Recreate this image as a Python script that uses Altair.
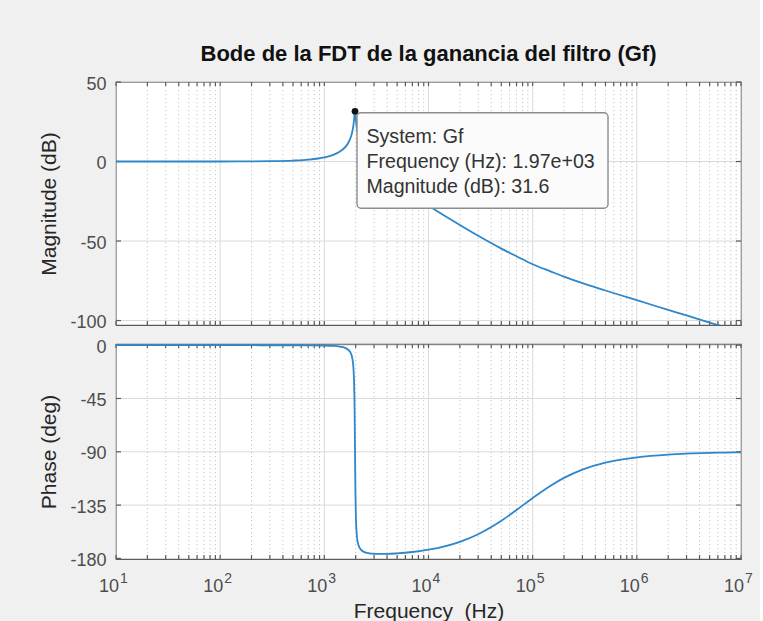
import altair as alt
import pandas as pd

# ---- Bode response of Gf: frequency (Hz), magnitude (dB), phase (deg) ----
FREQ_HZ = [10, 20, 50, 100, 200, 300, 500, 700,
           1000, 1200, 1400, 1500, 1600, 1700, 1800, 1850, 1900, 1930,
           1950, 1960, 1970, 1980, 1990, 2010, 2050, 2100, 2200, 2400,
           2700, 3000, 4000, 5000, 7000, 1e4, 2e4, 3e4, 5e4, 7e4,
           1e5, 1.5e5, 2e5, 3e5, 5e5, 7e5, 1e6, 2e6, 3e6, 5e6,
           7e6, 1e7]
MAG_DB = [0.00, 0.00, 0.01, 0.02, 0.09, 0.20, 0.58, 1.17,
          2.59, 4.03, 6.11, 7.53, 9.34, 11.82, 15.55, 18.37, 22.58, 26.42,
          29.64, 31.03, 31.6, 30.95, 29.49, 26.19, 21.18, 17.13, 12.08, 6.28,
          1.12, -2.40, -9.88, -14.70, -21.28, -27.81, -39.92, -46.71, -54.76, -59.60,
          -64.6, -69.2, -72.4, -76.5, -81.1, -84.1, -87.2, -93.3, -96.8, -101.3,
          -104.2, -107.3]
PHASE_DEG = [0.0, 0.0, 0.0, -0.01, -0.02, -0.05, -0.06, -0.12,
             -0.32, -0.61, -1.17, -1.67, -2.46, -3.88, -7.01, -10.51, -18.64, -31.32,
             -50.84, -67.46, -88.61, -109.65, -126.11, -145.37, -160.27, -166.89, -171.66, -174.51,
             -175.74, -176.14, -176.19, -175.77, -174.60, -172.65, -165.98, -159.58, -148.25, -139.13,
             -128.97, -118.37, -112.04, -105.10, -99.20, -96.60, -94.63, -92.32, -91.55, -90.93,
             -90.66, -90.46]

# data tip on the resonance peak
PEAK_FREQ = 1970
PEAK_DB = 31.6
SYSTEM_NAME = "Gf"

# axis ticks
DECADES = [10, 100, 1000, 1e4, 1e5, 1e6, 1e7]
EXPONENTS = ["1", "2", "3", "4", "5", "6", "7"]
MINOR_X = [m * 10 ** k for k in range(1, 7) for m in range(2, 10)]
MAG_TICKS = [50, 0, -50, -100]
PHASE_TICKS = [0, -45, -90, -135, -180]

TITLE = "Bode de la FDT de la ganancia del filtro (Gf)"

FONT = "Liberation Sans"
LINE_COLOR = "#2d87ca"
TICK_COLOR = "#4d4d4d"
LABEL_COLOR = "#262626"
MAJOR_GRID = "#dadada"
MINOR_GRID = "#c4c4c4"
EDGE = "#5a5a5a"

W, H_MAG, H_PH = 625, 243, 215

resp = pd.DataFrame({"f": FREQ_HZ, "mag": MAG_DB, "phase": PHASE_DEG})
major_df = pd.DataFrame({"f": DECADES, "exp": EXPONENTS})
minor_df = pd.DataFrame({"f": MINOR_X})
xtick_df = pd.DataFrame({"f": DECADES + MINOR_X})
mag_tick_df = pd.DataFrame({"mag": MAG_TICKS})
ph_tick_df = pd.DataFrame({"phase": PHASE_TICKS})
tip_text = "\n".join([
    f"System: {SYSTEM_NAME}",
    f"Frequency (Hz): {PEAK_FREQ:.2e}",
    f"Magnitude (dB): {PEAK_DB:g}",
])
peak_df = pd.DataFrame({"f": [PEAK_FREQ], "mag": [PEAK_DB], "tip": [tip_text]})

x_scale = alt.Scale(type="log", domain=[10, 1e7], nice=False)


def X(show_axis):
    if show_axis:
        ax = alt.Axis(labels=False, ticks=False, domain=False, grid=False,
                      title="Frequency\u00a0 (Hz)", titleFont=FONT, titleFontSize=21,
                      titleFontWeight="normal", titleColor=LABEL_COLOR,
                      titleBaseline="alphabetic", titleY=58)
        return alt.X("f:Q", scale=x_scale, axis=ax)
    return alt.X("f:Q", scale=x_scale, axis=None)


def y_axis(values, title, height):
    return alt.Axis(values=values, grid=False, ticks=False, domain=False,
                    labelExpr="'' + datum.value", labelFont=FONT, labelFontSize=18,
                    labelColor=TICK_COLOR, labelPadding=10, labelOffset=2,
                    title=title, titleFont=FONT, titleFontSize=21,
                    titleFontWeight="normal", titleColor=LABEL_COLOR,
                    titleAngle=270, titleAlign="center", titleBaseline="alphabetic",
                    titleX=-61, titleY=height / 2)


Y_MAG = alt.Y("mag:Q", scale=alt.Scale(domain=[-102.8, 50], nice=False, zero=False),
              axis=y_axis(MAG_TICKS, "Magnitude (dB)", H_MAG))
Y_PH = alt.Y("phase:Q", scale=alt.Scale(domain=[-180.5, 1.0], nice=False, zero=False),
             axis=y_axis(PHASE_TICKS, "Phase (deg)", H_PH))


def frame_layers(xenc, yenc, ytick_df, height):
    """Grid lines and inward ticks of one MATLAB-style axes box."""
    minor = alt.Chart(minor_df).mark_rule(color=MINOR_GRID, strokeWidth=1,
                                          strokeDash=[1.2, 2.8]).encode(x=xenc)
    major = alt.Chart(major_df).mark_rule(color=MAJOR_GRID, strokeWidth=1).encode(x=xenc)
    hgrid = alt.Chart(ytick_df).mark_rule(color=MAJOR_GRID, strokeWidth=1).encode(y=yenc)
    tick_style = dict(color=EDGE, strokeWidth=1.2)
    xt_bottom = alt.Chart(xtick_df).mark_rule(**tick_style).encode(
        x=xenc, y=alt.value(height), y2=alt.value(height - 4))
    xt_top = alt.Chart(xtick_df).mark_rule(**tick_style).encode(
        x=xenc, y=alt.value(0), y2=alt.value(4))
    yt_left = alt.Chart(ytick_df).mark_rule(**tick_style).encode(
        y=yenc, x=alt.value(0), x2=alt.value(5))
    yt_right = alt.Chart(ytick_df).mark_rule(**tick_style).encode(
        y=yenc, x=alt.value(W), x2=alt.value(W - 5))
    return [minor, major, hgrid, xt_bottom, xt_top, yt_left, yt_right]


# ---- magnitude panel ----
xm = X(False)
mag_line = alt.Chart(resp).mark_line(color=LINE_COLOR, strokeWidth=1.8, clip=True,
                                     interpolate="monotone").encode(x=xm, y=Y_MAG)
tip_box = alt.Chart(peak_df).mark_rect(
    fill="#fbfbfb", stroke="#8c8c8c", strokeWidth=1.4, cornerRadius=4,
    xOffset=2, x2Offset=253, yOffset=1.5, y2Offset=97).encode(
    x=xm, x2="f:Q", y=Y_MAG, y2="mag:Q")
tip_text_layer = alt.Chart(peak_df).mark_text(
    align="left", baseline="alphabetic", dx=11.5, dy=31.5, lineBreak="\n",
    lineHeight=25.3, font=FONT, fontSize=19.6, color="#333333").encode(
    x=xm, y=Y_MAG, text="tip:N")
tip_dot = alt.Chart(peak_df).mark_point(filled=True, color="#111111", size=45, opacity=1).encode(
    x=xm, y=Y_MAG)

top = alt.layer(*frame_layers(xm, Y_MAG, mag_tick_df, H_MAG),
                mag_line, tip_box, tip_text_layer, tip_dot).properties(
    width=W, height=H_MAG,
    title=alt.TitleParams(TITLE, anchor="middle", frame="group", font=FONT,
                          fontSize=22, fontWeight="bold", color="#111111",
                          baseline="alphabetic", offset=-8))

# ---- phase panel ----
xp = X(True)
ph_line = alt.Chart(resp).mark_line(color=LINE_COLOR, strokeWidth=1.8, clip=True,
                                    interpolate="monotone").encode(x=xp, y=Y_PH)
dec_labels = alt.Chart(major_df).mark_text(
    align="right", baseline="alphabetic", dx=3, font=FONT, fontSize=18,
    color=TICK_COLOR).encode(x=xp, y=alt.value(H_PH + 33), text=alt.value("10"))
exp_labels = alt.Chart(major_df).mark_text(
    align="left", baseline="alphabetic", dx=4, font=FONT, fontSize=14,
    color=TICK_COLOR).encode(x=xp, y=alt.value(H_PH + 24), text="exp:N")

bottom = alt.layer(*frame_layers(xp, Y_PH, ph_tick_df, H_PH),
                   ph_line, dec_labels, exp_labels).properties(width=W, height=H_PH)

chart = alt.vconcat(top, bottom, spacing=4).properties(
    background="#f0f0f0",
    padding={"left": 37, "top": 42, "right": 6, "bottom": 2},
).configure_view(fill="white", stroke=EDGE, strokeWidth=1.2)

chart.save("out.html", embed_options={"renderer": "svg", "actions": False})
